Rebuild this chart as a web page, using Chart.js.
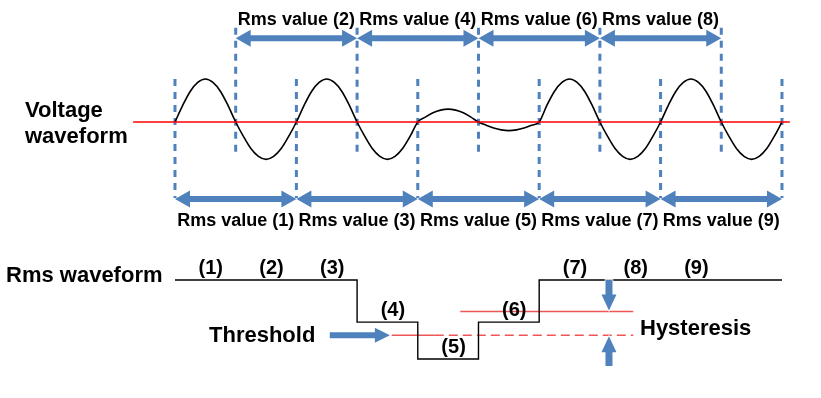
<!DOCTYPE html>
<html><head><meta charset="utf-8">
<script src="https://cdn.jsdelivr.net/npm/chart.js@4.4.1/dist/chart.umd.min.js"></script>
<style>html,body{margin:0;padding:0;background:#fff}#wrap{width:821px;height:398px;position:relative}</style>
</head><body><div id="wrap"><canvas id="c"></canvas></div>
<script>
// ---------------- data ----------------
// signal drawn in half-cycle units; window boundaries are at the zero crossings
const halfCycleAmplitudes = [1, -0.87, 1, -0.87, 0.3, -0.2, 1, -0.87, 1, -0.87];
const halfCycleShape = [0, 0.38, 0.71, 0.92, 1, 0.92, 0.71, 0.38, 0];
const windowBoundaries = [0, 1, 2, 3, 4, 5, 6, 7, 8, 9, 10];
const windowTitles = ['Rms value (1)', 'Rms value (2)', 'Rms value (3)', 'Rms value (4)', 'Rms value (5)',
                      'Rms value (6)', 'Rms value (7)', 'Rms value (8)', 'Rms value (9)'];
const rmsLabels = ['(1)', '(2)', '(3)', '(4)', '(5)', '(6)', '(7)', '(8)', '(9)'];
const rmsValues = [100, 100, 100, 68, 40, 68, 100, 100, 100];
const threshold = 58;
const hysteresis = 18;

// ---------------- styles ----------------
const BLUE = 'rgb(79,129,189)';
const RED = '#ff0000';
const LRED = 'rgb(240,85,85)';
const FONT = '"Liberation Sans", Arial, sans-serif';

// ---------------- build series ----------------
const voltagePts = [];
halfCycleAmplitudes.forEach((a, i) => {
  halfCycleShape.forEach((s, j) => {
    if (i > 0 && j === 0) return;
    voltagePts.push({x: i + j / (halfCycleShape.length - 1), y: a * s});
  });
});

const rmsGap = [7.05, 7.25];
const rmsPts = [];
rmsValues.forEach((v, k) => rmsPts.push({x: windowBoundaries[k], y: v}));
const last = rmsValues[rmsValues.length - 1];
rmsPts.push({x: rmsGap[0], y: last});
rmsPts.push({x: (rmsGap[0] + rmsGap[1]) / 2, y: null});
rmsPts.push({x: rmsGap[1], y: last});
rmsPts.push({x: windowBoundaries[windowBoundaries.length - 1], y: last});

const datasets = [];
datasets.push({data: [{x: -0.69, y: 0}, {x: 10.13, y: 0}], yAxisID: 'yV', borderColor: RED, borderWidth: 1.5});
datasets.push({data: voltagePts, yAxisID: 'yV', borderColor: '#000', borderWidth: 1.6, cubicInterpolationMode: 'monotone'});
windowBoundaries.forEach((b, i) => {
  const even = i % 2 === 0;
  datasets.push({data: even ? [{x: b, y: 1.0}, {x: b, y: -1.77}] : [{x: b, y: 2.19}, {x: b, y: -0.81}],
    yAxisID: 'yV', borderColor: BLUE, borderWidth: 3, borderDash: [7, 6], borderCapStyle: 'butt'});
});
datasets.push({data: rmsPts, yAxisID: 'yR', borderColor: '#000', borderWidth: 1.4, stepped: 'before', spanGaps: false});
datasets.push({data: [{x: 3.57, y: threshold}, {x: 4.28, y: threshold}], yAxisID: 'yR', borderColor: LRED, borderWidth: 1.5});
datasets.push({data: [{x: 4.28, y: threshold}, {x: 7.55, y: threshold}], yAxisID: 'yR', borderColor: LRED, borderWidth: 1.5, borderDash: [9, 5]});
datasets.push({data: [{x: 4.7, y: threshold + hysteresis}, {x: 7.55, y: threshold + hysteresis}], yAxisID: 'yR', borderColor: LRED, borderWidth: 1.5});

// ---------------- drawing helpers ----------------
function arrowPoly(ctx, x1, y1, x2, y2, shaft, headLen, headHalf, doubleHead) {
  const dx = x2 - x1, dy = y2 - y1, L = Math.hypot(dx, dy);
  const ux = dx / L, uy = dy / L, nx = -uy, ny = ux;
  const s = shaft / 2;
  const sb = doubleHead ? headLen : 0;
  const ax = x1 + ux * sb, ay = y1 + uy * sb;
  const bx = x2 - ux * headLen, by = y2 - uy * headLen;
  ctx.beginPath();
  if (doubleHead) {
    ctx.moveTo(x1, y1);
    ctx.lineTo(ax + nx * headHalf, ay + ny * headHalf);
    ctx.lineTo(ax + nx * s, ay + ny * s);
  } else {
    ctx.moveTo(x1 + nx * s, y1 + ny * s);
  }
  ctx.lineTo(bx + nx * s, by + ny * s);
  ctx.lineTo(bx + nx * headHalf, by + ny * headHalf);
  ctx.lineTo(x2, y2);
  ctx.lineTo(bx - nx * headHalf, by - ny * headHalf);
  ctx.lineTo(bx - nx * s, by - ny * s);
  if (doubleHead) {
    ctx.lineTo(ax - nx * s, ay - ny * s);
    ctx.lineTo(ax - nx * headHalf, ay - ny * headHalf);
  } else {
    ctx.lineTo(x1 - nx * s, y1 - ny * s);
  }
  ctx.closePath();
}

function text(ctx, str, x, y, size, align, sx) {
  ctx.save();
  ctx.font = 'bold ' + size + 'px ' + FONT;
  ctx.fillStyle = '#000';
  ctx.textBaseline = 'alphabetic';
  ctx.textAlign = align;
  ctx.translate(x, y);
  ctx.scale(sx || 1, 1);
  ctx.fillText(str, 0, 0);
  ctx.restore();
}

const overlay = {
  id: 'overlay',
  afterDatasetsDraw(chart) {
    const ctx = chart.ctx, X = chart.scales.x, V = chart.scales.yV, R = chart.scales.yR;
    ctx.save();
    ctx.fillStyle = BLUE;
    // window arrows + titles
    windowTitles.forEach((t, k) => {
      const top = k % 2 === 1;
      const x1 = X.getPixelForValue(windowBoundaries[k]);
      const x2 = X.getPixelForValue(windowBoundaries[k + 2]);
      const y = V.getPixelForValue(top ? 1.95 : -1.79);
      ctx.fillStyle = BLUE;
      arrowPoly(ctx, x1, y, x2, y, 6, 15, 8.5, true);
      ctx.fill();
      const ty = V.getPixelForValue(top ? 2.256 : -2.419);
      text(ctx, t, (x1 + x2) / 2, ty, 18, 'center', 1.0);
    });
    // rms step labels
    rmsLabels.forEach((l, k) => {
      text(ctx, l, X.getPixelForValue(k + 0.59), R.getPixelForValue(rmsValues[k]) - 6, 20, 'center');
    });
    // threshold arrow
    ctx.fillStyle = BLUE;
    const ty = R.getPixelForValue(threshold);
    arrowPoly(ctx, X.getPixelForValue(2.55), ty, X.getPixelForValue(3.54), ty, 6, 15, 7.5, false);
    ctx.fill();
    // hysteresis arrows
    const hx = X.getPixelForValue(7.15);
    ctx.strokeStyle = '#fff';
    ctx.lineWidth = 1.5;
    arrowPoly(ctx, hx, R.getPixelForValue(last), hx, R.getPixelForValue(threshold + hysteresis) - 1, 7, 16, 7.5, false);
    ctx.stroke(); ctx.fill();
    arrowPoly(ctx, hx, R.getPixelForValue(34.7), hx, R.getPixelForValue(threshold) + 1, 7, 16, 7.5, false);
    ctx.stroke(); ctx.fill();
    ctx.restore();
    // static texts
    text(ctx, 'Voltage', 25, 117, 22, 'left');
    text(ctx, 'waveform', 25, 143, 22, 'left');
    text(ctx, 'Rms waveform', 6, 282, 22, 'left');
    text(ctx, 'Threshold', 209, 342, 22, 'left');
    text(ctx, 'Hysteresis', 640, 335, 22, 'left');
  }
};

new Chart(document.getElementById('c'), {
  type: 'line',
  data: {datasets},
  options: {
    responsive: true,
    maintainAspectRatio: false,
    animation: false,
    layout: {padding: 0},
    elements: {point: {radius: 0, hoverRadius: 0}, line: {fill: false, tension: 0}},
    plugins: {legend: {display: false}, tooltip: {enabled: false}},
    events: [],
    scales: {
      x: {type: 'linear', display: false, min: -2.883, max: 10.643},
      yV: {type: 'linear', display: false, min: -6.419, max: 2.837},
      yR: {type: 'linear', display: false, min: 10.38, max: 312.66}
    }
  },
  plugins: [overlay]
});
</script>
</body></html>
